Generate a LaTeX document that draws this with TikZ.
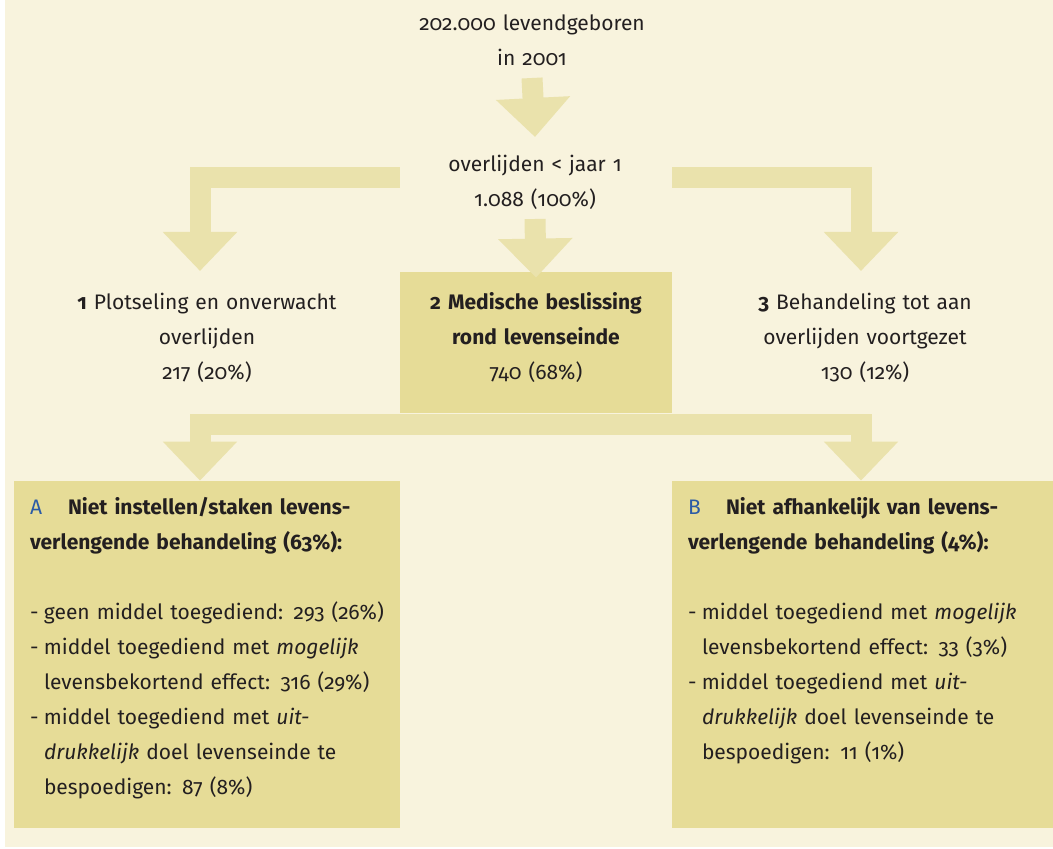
\documentclass[tikz,border=0pt]{standalone}
\usepackage{fontspec}
\setmainfont{Fira Sans}[Numbers=OldStyle]
\usepackage{tikz}
\usetikzlibrary{arrows.meta, calc}
\definecolor{bgcream}{HTML}{F8F3DD}
\definecolor{arrowc}{HTML}{EAE2AC}
\definecolor{boxc}{HTML}{E6DC97}
\definecolor{letterc}{HTML}{2B5BA6}
\definecolor{textc}{HTML}{231F20}

\begin{document}
\begin{tikzpicture}[x=0.5pt, y=-0.5pt,
    txtnode/.style={text=textc, inner sep=0pt, anchor=base, align=center,
      font=\fontsize{10.5pt}{17.5pt}\selectfont},
    listnode/.style={txtnode, anchor=base west, align=left, text width=190pt},
    boxnode/.style={rectangle, fill=boxc, inner sep=0pt, minimum height=173.5pt},
    blockarrow/.style={draw=arrowc, line width=10.5pt, line join=miter,
      -{Triangle[width=36pt, length=19.5pt]}}]
    \useasboundingbox (0,0) rectangle (1053,849);
    \fill[white] (0,0) rectangle (1053,849);
    \fill[bgcream] (5,0) rectangle (1053,847);

    \node[boxnode, minimum width=136pt, minimum height=70.5pt] (m2) at (536,342.5) {};
    \node[boxnode, minimum width=193pt] (nA) at (207,654.5) {};
    \node[boxnode, minimum width=190.5pt] (nB) at (862.5,654.5) {};

    \node[txtnode, text width=150pt] (born) at (532,31) {202.000 levendgeboren\\in 2001};
    \node[txtnode, text width=150pt] (ov) at (535,172) {overlijden < jaar 1\\1.088 (100\%)};
    \node[txtnode, text width=160pt] (plot) at (207,310)
      {\textbf{1} Plotseling en onverwacht\\overlijden\\217 (20\%)};
    \node[txtnode, text width=136pt] (m2txt) at ($(m2.north)+(0,38)$)
      {\textbf{2 Medische beslissing}\\\textbf{rond levenseinde}\\740 (68\%)};
    \node[txtnode, text width=160pt] (beh) at (865,310)
      {\textbf{3} Behandeling tot aan\\overlijden voortgezet\\130 (12\%)};

    \node[listnode] (tA) at ($(nA.north west)+(16,34)$)
      {\makebox[19pt][l]{\textcolor{letterc}{A}}\textbf{Niet instellen/staken levens-}\\
       \textbf{verlengende behandeling (63\%):}\\[17.5pt]
       \makebox[7pt][l]{-}geen middel toegediend: 293 (26\%)\\
       \makebox[7pt][l]{-}middel toegediend met \emph{mogelijk}\\
       \hspace*{7pt}levensbekortend effect: 316 (29\%)\\
       \makebox[7pt][l]{-}middel toegediend met \emph{uit-}\\
       \hspace*{7pt}\emph{drukkelijk} doel levenseinde te\\
       \hspace*{7pt}bespoedigen: 87 (8\%)};
    \node[listnode] (tB) at ($(nB.north west)+(16,34)$)
      {\makebox[19pt][l]{\textcolor{letterc}{B}}\textbf{Niet afhankelijk van levens-}\\
       \textbf{verlengende behandeling (4\%):}\\[17.5pt]
       \makebox[7pt][l]{-}middel toegediend met \emph{mogelijk}\\
       \hspace*{7pt}levensbekortend effect: 33 (3\%)\\
       \makebox[7pt][l]{-}middel toegediend met \emph{uit-}\\
       \hspace*{7pt}\emph{drukkelijk} doel levenseinde te\\
       \hspace*{7pt}bespoedigen: 11 (1\%)};

    \draw[blockarrow] ($(born.base)+(0,47)$) -- ($(ov.base)+(0,-35)$);
    \draw[blockarrow] ($(ov.base)+(0,47)$) -- ($(m2.north)+(0,6)$);
    \draw[blockarrow] ($(m2.north west)+(0,-94.5)$) -| ($(plot.base)+(-7,-39)$);
    \draw[blockarrow] ($(m2.north east)+(0,-94.5)$) -| ($(beh.base)+(-4,-39)$);
    \draw[blockarrow] ($(m2.south)+(0,11)$) -| ($(nA.north)+(-7,0)$);
    \draw[blockarrow] ($(m2.south)+(0,11)$) -| ($(nB.north)+(-1.5,0)$);
  \end{tikzpicture}
\end{document}
